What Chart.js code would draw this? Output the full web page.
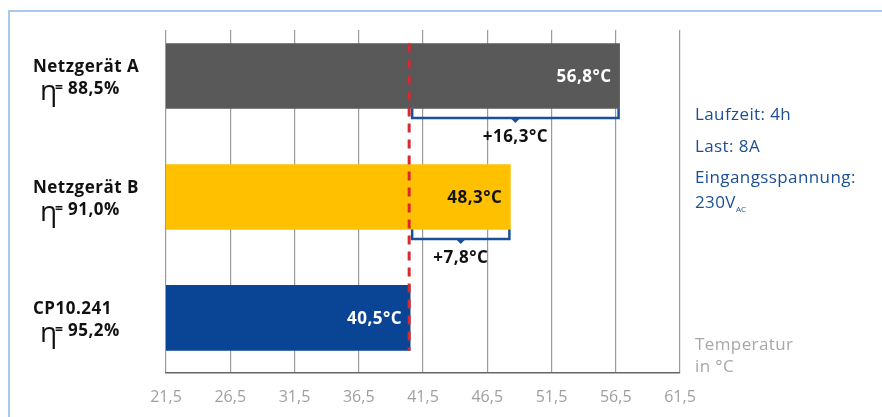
<!DOCTYPE html>
<html>
<head>
<meta charset="utf-8">
<script src="https://cdn.jsdelivr.net/npm/chart.js@4.4.0/dist/chart.umd.min.js"></script>
<style>
  html, body { margin: 0; padding: 0; background: #fff; }
  #wrap { position: relative; width: 882px; height: 417px; overflow: hidden; }
  #frame { position: absolute; left: 8px; top: 10px; width: 1000px; height: 1000px; border-left: 2px solid #a9c9ea; border-top: 2px solid #a9c9ea; box-sizing: border-box; }
  canvas { position: absolute; left: 0; top: 0; }
</style>
</head>
<body>
<div id="wrap">
  <div id="frame"></div>
  <canvas id="c" width="882" height="417"></canvas>
</div>
<script>
// ---- data ----
const categories = ["Netzgerät A", "Netzgerät B", "CP10.241"];
const efficiencies = ["88,5%", "91,0%", "95,2%"];
const temperatures = [56.8, 48.3, 40.5];
const differences = [16.3, 7.8, null];
const referenceTemp = 40.5;
const xTicks = [21.5, 26.5, 31.5, 36.5, 41.5, 46.5, 51.5, 56.5, 61.5];
const barColors = ["#595959", "#ffc000", "#0a4595"];
const labelColors = ["#ffffff", "#111111", "#ffffff"];
const infoLines = ["Laufzeit: 4h", "Last: 8A", "Eingangsspannung:"];

const FONT = "'Open Sans', sans-serif";
const fmt = v => v.toFixed(1).replace('.', ',');

const overlay = {
  id: 'overlay',
  afterDatasetsDraw(chart) {
    const ctx = chart.ctx;
    const xs = chart.scales.x;
    const meta = chart.getDatasetMeta(0);
    const bars = meta.data;
    ctx.save();
    ctx.letterSpacing = '0.5px';
    // value labels inside bars
    ctx.font = "bold 17px " + FONT;
    ctx.textAlign = 'right';
    ctx.textBaseline = 'middle';
    bars.forEach((b, i) => {
      ctx.fillStyle = labelColors[i];
      ctx.fillText(fmt(temperatures[i]) + "°C", b.x - 8, b.y + 1);
    });
    // brackets
    const refX = xs.getPixelForValue(referenceTemp) + 2;
    ctx.strokeStyle = "#1a4f9c";
    ctx.fillStyle = "#1a4f9c";
    ctx.lineWidth = 2.5;
    bars.forEach((b, i) => {
      if (differences[i] == null) return;
      const bottom = b.y + b.height / 2;
      const y2 = bottom + 9.5;
      const x2 = b.x - 1;
      ctx.beginPath();
      ctx.moveTo(refX, bottom);
      ctx.lineTo(refX, y2);
      ctx.lineTo(x2, y2);
      ctx.lineTo(x2, bottom);
      ctx.stroke();
      const mid = (refX + x2) / 2;
      ctx.beginPath();
      ctx.moveTo(mid - 5, y2);
      ctx.lineTo(mid + 5, y2);
      ctx.lineTo(mid, y2 + 5);
      ctx.closePath();
      ctx.fill();
      ctx.fillStyle = "#111";
      ctx.font = "bold 17px " + FONT;
      ctx.textAlign = 'center';
      ctx.textBaseline = 'alphabetic';
      ctx.fillText("+" + fmt(differences[i]) + "°C", mid, y2 + 24);
      ctx.fillStyle = "#1a4f9c";
    });
    // red dashed reference line
    const top = bars[0].y - bars[0].height / 2;
    const bot = bars[bars.length - 1].y + bars[bars.length - 1].height / 2;
    const rx = xs.getPixelForValue(referenceTemp) - 1;
    ctx.strokeStyle = "#d42a30";
    ctx.lineWidth = 3;
    ctx.setLineDash([9, 7]);
    ctx.beginPath();
    ctx.moveTo(rx, top);
    ctx.lineTo(rx, bot);
    ctx.stroke();
    ctx.setLineDash([]);
    // left category labels
    ctx.textAlign = 'left';
    ctx.textBaseline = 'alphabetic';
    bars.forEach((b, i) => {
      const c = b.y;
      ctx.fillStyle = "#111";
      ctx.font = "bold 17px " + FONT;
      ctx.fillText(categories[i], 33, c - 4);
      ctx.letterSpacing = '0px';
      ctx.font = "28px " + FONT;
      ctx.fillText("η", 40, c + 24);
      ctx.font = "bold 14px " + FONT;
      ctx.fillText("=", 55, c + 16);
      ctx.letterSpacing = '0.5px';
      ctx.font = "bold 17px " + FONT;
      ctx.fillText(efficiencies[i], 68, c + 18);
    });
    // right info text
    ctx.letterSpacing = '0.4px';
    ctx.fillStyle = "#1b4f94";
    ctx.font = "17px " + FONT;
    ctx.fillText(infoLines[0], 695, 120);
    ctx.fillText(infoLines[1], 695, 152);
    ctx.fillText(infoLines[2], 695, 183);
    ctx.fillText("230V", 695, 208);
    const w = ctx.measureText("230V").width;
    ctx.letterSpacing = '0px';
    ctx.font = "8px " + FONT;
    ctx.fillText("AC", 695 + w, 212);
    ctx.letterSpacing = '0.4px';
    ctx.fillStyle = "#a8a8a8";
    ctx.font = "17px " + FONT;
    ctx.fillText("Temperatur", 695, 350);
    ctx.fillText("in °C", 695, 372);
    ctx.restore();
  }
};

new Chart(document.getElementById('c'), {
  type: 'bar',
  data: {
    datasets: [{
      data: temperatures.map((t, i) => ({ x: t, y: i })),
      backgroundColor: barColors,
      borderWidth: 0,
      barThickness: 65
    }]
  },
  options: {
    indexAxis: 'y',
    responsive: false,
    animation: false,
    events: [],
    layout: { padding: { left: 166, right: 202, top: 30, bottom: 0 } },
    plugins: { legend: { display: false }, tooltip: { enabled: false } },
    scales: {
      x: {
        type: 'linear',
        min: xTicks[0],
        max: xTicks[xTicks.length - 1],
        afterBuildTicks: axis => { axis.ticks = xTicks.map(v => ({ value: v })); },
        afterFit: axis => { axis.height = 44; },
        ticks: {
          callback: v => fmt(v),
          color: '#a0a0a0',
          font: { family: FONT, size: 16, lineHeight: 1 },
          padding: 16,
          maxRotation: 0,
          autoSkip: false
        },
        grid: { color: '#9a9a9a', lineWidth: 1.2, drawTicks: false },
        border: { display: true, color: '#666', width: 1.5 }
      },
      y: {
        type: 'linear',
        display: false,
        reverse: true,
        offset: false,
        bounds: 'data',
        min: -0.38,
        max: 2.455
      }
    }
  },
  plugins: [overlay]
});
</script>
</body>
</html>
